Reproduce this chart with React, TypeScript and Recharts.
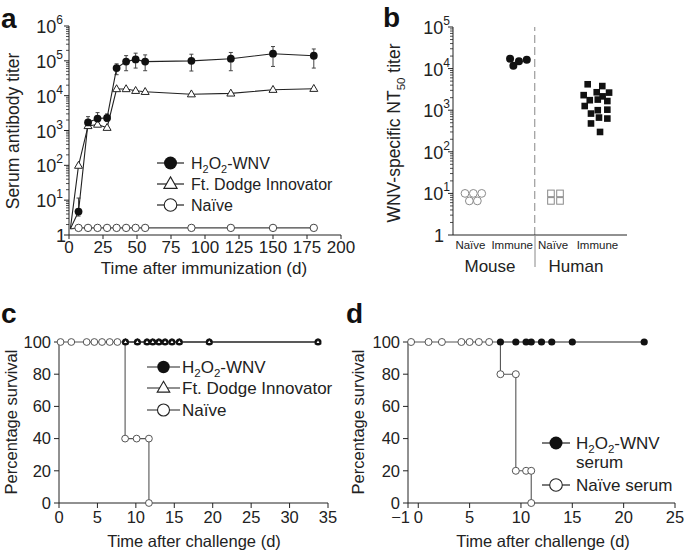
import React from 'react';
import {
  LineChart,
  Line,
  XAxis,
  YAxis,
  ErrorBar,
  ScatterChart,
  Scatter,
  ReferenceLine,
} from 'recharts';

const FONT = '"Liberation Sans", Arial, Helvetica, sans-serif';
const INK = '#222';

// ---- panel a: serum antibody titer after immunization
const daysA = [1, 7, 14, 21, 28, 35, 42, 49, 56, 90, 119, 150, 180];
const h2o2Titer = [1.5, 4.7, 1700, 2200, 2300, 62000, 95000, 110000, 95000, 100000, 115000, 160000, 140000];
const h2o2ErrLow = [null, 1.2, 530, 750, 500, 22000, 43000, 48000, 43000, 49000, 63000, 91000, 78000];
const h2o2ErrHigh = [null, 6.8, 800, 1060, 700, 20000, 46000, 56000, 53000, 55000, 59000, 97000, 79000];
const ftDodgeTiter = [1.5, 98, 1350, 1480, 1200, 15500, 15500, 13800, 12900, 11000, 11600, 14800, 15800];
const naiveTiter = [1.5, 1.6, 1.6, 1.6, 1.6, 1.6, 1.6, 1.6, 1.6, 1.6, 1.6, 1.6, 1.6];
const ticksA = [0, 25, 50, 75, 100, 125, 150, 175, 200];
const decadesA = [1, 10, 100, 1000, 10000, 100000, 1000000];

// ---- panel b: NT50 titers
const decadesB = [1, 10, 100, 1000, 10000, 100000];
const groupPos = [1.0, 3.4, 5.75, 8.3];
const groupLabels = ['Naïve', 'Immune', 'Naïve', 'Immune'];
const dividerX = 4.7;
const mouseNaiveX = [0.69, 1.17, 1.65, 0.94, 1.4];
const mouseNaiveTiter = [10, 10, 10, 6.6, 6.6];
const mouseImmuneX = [3.28, 3.47, 3.79, 4.24];
const mouseImmuneTiter = [17300, 11700, 15100, 16300];
const humanNaiveX = [5.63, 6.15, 5.63, 6.15];
const humanNaiveTiter = [10, 10, 6.6, 6.6];
const humanImmuneX = [7.74, 8.58, 8.26, 8.97, 7.51, 8.6, 7.86, 8.32, 8.87, 7.57, 8.32, 8.87, 7.93, 8.39, 8.87, 7.93, 8.45];
const humanImmuneTiter = [4200, 3800, 2700, 2650, 2300, 2150, 1740, 1800, 1660, 1260, 1000, 1030, 830, 665, 630, 480, 300];

// ---- panel c: survival after challenge (vaccinated mice)
const naiveDaysC = [0.2, 1.6, 3.6, 4.6, 5.6, 6.6, 7.6, 8.6, 10.1, 11.7, 11.7];
const naiveSurvC = [100, 100, 100, 100, 100, 100, 100, 40, 40, 40, 0];
const vaccDaysC = [8.65, 10.2, 11.45, 12.2, 13.0, 13.8, 14.7, 15.65, 19.55, 33.7];
const h2o2SurvC = [100, 100, 100, 100, 100, 100, 100, 100, 100, 100];
const ftDodgeSurvC = [100, 100, 100, 100, 100, 100, 100, 100, 100, 100];
const ticksC = [0, 5, 10, 15, 20, 25, 30, 35];

// ---- panel d: survival after passive transfer
const naiveDaysD = [-0.7, 1, 2.3, 4.2, 5, 5.9, 6.9, 8, 9.5, 9.5, 10.5, 11, 11];
const naiveSurvD = [100, 100, 100, 100, 100, 100, 100, 80, 80, 20, 20, 20, 0];
const serumDaysD = [8, 9.5, 10.5, 11, 12, 13, 15, 22];
const serumSurvD = [100, 100, 100, 100, 100, 100, 100, 100];
const ticksD = [-1, 0, 5, 10, 15, 20, 25];
const pctTicks = [0, 20, 40, 60, 80, 100];

const withMinors = (decades: number[]) => {
  const out: number[] = [];
  decades.forEach((d, i) => {
    out.push(d);
    if (i < decades.length - 1) for (let k = 2; k <= 9; k++) out.push(d * k);
  });
  return out;
};

const dataA = daysA.map((day, i) => ({
  day,
  h2o2: h2o2Titer[i],
  err: h2o2ErrLow[i] == null ? null : [h2o2ErrLow[i], h2o2ErrHigh[i]],
  ftd: ftDodgeTiter[i],
  naive: naiveTiter[i],
}));

const pts = (xs: number[], ys: number[]) => xs.map((x, i) => ({ x, y: ys[i] }));

function triPath(cx: number, cy: number, s: number) {
  const h = s * 0.866;
  return `M${cx},${cy - h * 0.62}L${cx + s / 2},${cy + h * 0.38}L${cx - s / 2},${cy + h * 0.38}Z`;
}

function LogTick(props: any) {
  const { x, y, payload, supRight, oneRight } = props;
  const v = payload.value;
  const p = Math.log10(v);
  const e = Math.round(p);
  if (Math.abs(p - e) > 1e-9) {
    return <line x1={x - 3} x2={x} y1={y} y2={y} stroke={INK} strokeWidth={0.8} />;
  }
  return (
    <g>
      <line x1={x - 5} x2={x} y1={y} y2={y} stroke={INK} strokeWidth={1} />
      {e === 0 ? (
        <text x={x - oneRight} y={y + 7} textAnchor="end" fontSize={18} fill={INK} fontFamily={FONT}>1</text>
      ) : (
        <text x={x - supRight} y={y + 7} textAnchor="end" fontSize={18} fill={INK} fontFamily={FONT}>
          10<tspan dy={-9} fontSize={12}>{e}</tspan>
        </text>
      )}
    </g>
  );
}

// x tick for panel d: the negative label sits left of its tick so it clears "0"
function DayTick(props: any) {
  const { x, y, payload } = props;
  const v = payload.value;
  const neg = v < 0;
  return (
    <text
      x={neg ? x + 2 : x}
      y={y + 12}
      textAnchor={neg ? 'end' : 'middle'}
      fontSize={16.5}
      fill={INK}
      fontFamily={FONT}
    >
      {neg ? `\u2212${Math.abs(v)}` : `${v}`}
    </text>
  );
}

const hideFirst = (render: (cx: number, cy: number) => React.ReactElement) => (p: any) =>
  p.index === 0 ? <g key={`n${p.index}`} /> : <g key={`d${p.index}`}>{render(p.cx, p.cy)}</g>;

function PanelA() {
  return (
    <LineChart width={360} height={290} data={dataA} margin={{ top: 26, right: 19, left: 9, bottom: 0 }}>
      <XAxis
        type="number"
        dataKey="day"
        domain={[0, 200]}
        ticks={ticksA}
        interval={0}
        height={55}
        tickSize={4}
        tickMargin={2}
        stroke={INK}
        tick={{ fontSize: 17, fill: INK, fontFamily: FONT }}
      />
      <YAxis
        type="number"
        scale="log"
        domain={[1, 1000000]}
        allowDataOverflow
        ticks={withMinors(decadesA)}
        interval={0}
        width={60}
        tickSize={0}
        tickMargin={0}
        stroke={INK}
        tick={(p: any) => <LogTick {...p} supRight={6} oneRight={3} />}
      />
      <Line
        dataKey="naive"
        stroke="#444"
        strokeWidth={1.1}
        isAnimationActive={false}
        dot={hideFirst((cx, cy) => <circle cx={cx} cy={cy} r={3.7} fill="#fff" stroke="#444" strokeWidth={1} />)}
      />
      <Line
        dataKey="ftd"
        stroke={INK}
        strokeWidth={1.1}
        isAnimationActive={false}
        dot={hideFirst((cx, cy) => <path d={triPath(cx, cy, 8)} fill="#fff" stroke={INK} strokeWidth={1} />)}
      />
      <Line
        dataKey="h2o2"
        stroke={INK}
        strokeWidth={1.1}
        isAnimationActive={false}
        dot={hideFirst((cx, cy) => <circle cx={cx} cy={cy} r={3.9} fill="#111" />)}
      >
        <ErrorBar dataKey="err" width={2} stroke="#444" strokeWidth={1} direction="y" />
      </Line>
    </LineChart>
  );
}

function PanelB() {
  return (
    <ScatterChart width={345} height={290} margin={{ top: 27, right: 58, left: 53, bottom: 0 }}>
      <XAxis
        type="number"
        dataKey="x"
        domain={[0, 10]}
        ticks={groupPos}
        interval={0}
        height={55}
        tickLine={false}
        tickSize={0}
        tickMargin={6}
        stroke={INK}
        tickFormatter={(_v: number, i: number) => groupLabels[i]}
        tick={{ fontSize: 11.5, fill: INK, fontFamily: FONT }}
      />
      <YAxis
        type="number"
        dataKey="y"
        scale="log"
        domain={[1, 100000]}
        allowDataOverflow
        ticks={withMinors(decadesB)}
        interval={0}
        width={60}
        tickSize={0}
        tickMargin={0}
        stroke={INK}
        tick={(p: any) => <LogTick {...p} supRight={3} oneRight={9} />}
      />
      <ReferenceLine x={dividerX} stroke="#888" strokeWidth={1} strokeDasharray="8 4" />
      <Scatter
        data={pts(mouseNaiveX, mouseNaiveTiter)}
        isAnimationActive={false}
        shape={(p: any) => <circle cx={p.cx} cy={p.cy} r={3.9} fill="#fff" stroke="#8a8a8a" strokeWidth={1} />}
      />
      <Scatter
        data={pts(mouseImmuneX, mouseImmuneTiter)}
        isAnimationActive={false}
        shape={(p: any) => <circle cx={p.cx} cy={p.cy} r={4} fill="#111" />}
      />
      <Scatter
        data={pts(humanNaiveX, humanNaiveTiter)}
        isAnimationActive={false}
        shape={(p: any) => <rect x={p.cx - 3.3} y={p.cy - 3.3} width={6.6} height={6.6} fill="#fff" stroke="#8a8a8a" strokeWidth={1} />}
      />
      <Scatter
        data={pts(humanImmuneX, humanImmuneTiter)}
        isAnimationActive={false}
        shape={(p: any) => <rect x={p.cx - 3.3} y={p.cy - 3.3} width={6.6} height={6.6} fill="#111" />}
      />
    </ScatterChart>
  );
}

function PanelC() {
  return (
    <LineChart width={345} height={263} margin={{ top: 52, right: 17, left: 0, bottom: 0 }}>
      <XAxis
        type="number"
        dataKey="x"
        domain={[0, 35]}
        ticks={ticksC}
        interval={0}
        height={50}
        tickSize={5}
        tickMargin={3}
        stroke={INK}
        tick={{ fontSize: 16.5, fill: INK, fontFamily: FONT }}
      />
      <YAxis
        type="number"
        dataKey="y"
        domain={[0, 100]}
        ticks={pctTicks}
        interval={0}
        width={59}
        tickSize={5}
        tickMargin={3}
        stroke={INK}
        tick={{ fontSize: 16.5, fill: INK, fontFamily: FONT }}
      />
      <Line
        data={pts(naiveDaysC, naiveSurvC)}
        dataKey="y"
        type="stepAfter"
        stroke="#555"
        strokeWidth={1.1}
        isAnimationActive={false}
        dot={(p: any) => <circle key={p.index} cx={p.cx} cy={p.cy} r={3.4} fill="#fff" stroke="#555" strokeWidth={1} />}
      />
      <Line
        data={pts(vaccDaysC, h2o2SurvC)}
        dataKey="y"
        type="stepAfter"
        stroke={INK}
        strokeWidth={1.1}
        isAnimationActive={false}
        dot={(p: any) => <circle key={p.index} cx={p.cx} cy={p.cy} r={3.5} fill="#111" />}
      />
      <Line
        data={pts(vaccDaysC, ftDodgeSurvC)}
        dataKey="y"
        type="stepAfter"
        stroke={INK}
        strokeWidth={1.1}
        isAnimationActive={false}
        dot={(p: any) => <path key={p.index} d={triPath(p.cx, p.cy, 5.2)} fill="#fff" stroke="#111" strokeWidth={1.2} />}
      />
    </LineChart>
  );
}

function PanelD() {
  return (
    <LineChart width={345} height={263} margin={{ top: 52, right: 10, left: 8, bottom: 0 }}>
      <XAxis
        type="number"
        dataKey="x"
        domain={[-1, 25]}
        ticks={ticksD}
        interval={0}
        height={50}
        tickSize={5}
        tickMargin={3}
        stroke={INK}
        tick={(p: any) => <DayTick {...p} />}
      />
      <YAxis
        type="number"
        dataKey="y"
        domain={[0, 100]}
        ticks={pctTicks}
        interval={0}
        width={60}
        tickSize={5}
        tickMargin={3}
        stroke={INK}
        tick={{ fontSize: 16.5, fill: INK, fontFamily: FONT }}
      />
      <Line
        data={pts(naiveDaysD, naiveSurvD)}
        dataKey="y"
        type="stepAfter"
        stroke="#555"
        strokeWidth={1.1}
        isAnimationActive={false}
        dot={(p: any) => <circle key={p.index} cx={p.cx} cy={p.cy} r={3.5} fill="#fff" stroke="#555" strokeWidth={1} />}
      />
      <Line
        data={pts(serumDaysD, serumSurvD)}
        dataKey="y"
        type="stepAfter"
        stroke={INK}
        strokeWidth={1.1}
        isAnimationActive={false}
        dot={(p: any) => <circle key={p.index} cx={p.cx} cy={p.cy} r={3.6} fill="#111" />}
      />
    </LineChart>
  );
}

function H2O2Text({ x, y, size, second }: { x: number; y: number; size: number; second?: string }) {
  const sub = size * 0.68;
  const d = size * 0.22;
  return (
    <text x={x} y={y} fontSize={size} fill={INK} fontFamily={FONT}>
      H<tspan dy={d} fontSize={sub}>2</tspan>
      <tspan dy={-d}>O</tspan>
      <tspan dy={d} fontSize={sub}>2</tspan>
      <tspan dy={-d}>-WNV</tspan>
      {second && (
        <tspan x={x} dy={size * 1.1}>
          {second}
        </tspan>
      )}
    </text>
  );
}

type Marker = 'filled' | 'tri' | 'open';

function LegendKey({ x1, x2, y, kind, r }: { x1: number; x2: number; y: number; kind: Marker; r: number }) {
  const cx = (x1 + x2) / 2;
  return (
    <g>
      <line x1={x1} x2={x2} y1={y} y2={y} stroke={INK} strokeWidth={1.2} />
      {kind === 'filled' && <circle cx={cx} cy={y} r={r} fill="#111" />}
      {kind === 'open' && <circle cx={cx} cy={y} r={r} fill="#fff" stroke={INK} strokeWidth={1.1} />}
      {kind === 'tri' && <path d={triPath(cx, y, r * 2.1)} fill="#fff" stroke={INK} strokeWidth={1.1} />}
    </g>
  );
}

function Overlay() {
  const letter = { fontSize: 28, fontWeight: 700, fill: '#111', fontFamily: FONT } as const;
  const title = { fill: INK, fontFamily: FONT } as const;
  return (
    <svg width={685} height={553} style={{ position: 'absolute', left: 0, top: 0, pointerEvents: 'none' }}>
      <text x={1} y={28} {...letter}>a</text>
      <text x={383} y={27} {...letter}>b</text>
      <text x={1} y={323} {...letter}>c</text>
      <text x={346} y={323} {...letter}>d</text>

      {/* panel a titles + legend */}
      <text x={204} y={274} textAnchor="middle" fontSize={17} {...title}>Time after immunization (d)</text>
      <text transform="translate(19,131) rotate(-90)" textAnchor="middle" fontSize={17.5} {...title}>Serum antibody titer</text>
      <LegendKey x1={157} x2={184} y={163} kind="filled" r={6.5} />
      <H2O2Text x={191} y={169} size={16} />
      <LegendKey x1={157} x2={184} y={184} kind="tri" r={6.3} />
      <text x={191} y={190} fontSize={16} {...title}>Ft. Dodge Innovator</text>
      <LegendKey x1={157} x2={184} y={205} kind="open" r={6.3} />
      <text x={191} y={211} fontSize={16} {...title}>Naïve</text>

      {/* panel b titles */}
      <text transform="translate(400,133) rotate(-90)" textAnchor="middle" fontSize={17.5} {...title}>
        WNV-specific NT<tspan dy={5} fontSize={11.5}>50</tspan>
        <tspan dy={-5}> titer</tspan>
      </text>
      <line x1={535} x2={535} y1={236} y2={267} stroke="#888" strokeWidth={1} />
      <text x={490} y={272} textAnchor="middle" fontSize={17} {...title}>Mouse</text>
      <text x={576} y={272} textAnchor="middle" fontSize={17} {...title}>Human</text>

      {/* panel c titles + legend */}
      <text x={194} y={547} textAnchor="middle" fontSize={16.5} {...title}>Time after challenge (d)</text>
      <text transform="translate(17,422) rotate(-90)" textAnchor="middle" fontSize={16.5} {...title}>Percentage survival</text>
      <LegendKey x1={147} x2={180} y={367} kind="filled" r={6.2} />
      <H2O2Text x={182} y={373} size={17} />
      <LegendKey x1={147} x2={180} y={388} kind="tri" r={6} />
      <text x={182} y={394} fontSize={17} {...title}>Ft. Dodge Innovator</text>
      <LegendKey x1={147} x2={180} y={410} kind="open" r={6} />
      <text x={182} y={416} fontSize={17} {...title}>Naïve</text>

      {/* panel d titles + legend */}
      <text x={543} y={547} textAnchor="middle" fontSize={16.5} {...title}>Time after challenge (d)</text>
      <text transform="translate(364,422) rotate(-90)" textAnchor="middle" fontSize={16.5} {...title}>Percentage survival</text>
      <LegendKey x1={542} x2={570} y={443} kind="filled" r={6.5} />
      <H2O2Text x={576} y={449} size={17} second="serum" />
      <LegendKey x1={542} x2={570} y={485} kind="open" r={6.3} />
      <text x={576} y={491} fontSize={17} {...title}>Naïve serum</text>
    </svg>
  );
}

export default function App() {
  return (
    <div
      style={{
        position: 'absolute',
        left: 0,
        top: 0,
        width: 685,
        height: 553,
        background: '#fff',
        fontFamily: FONT,
        overflow: 'hidden',
      }}
    >
      <div style={{ position: 'absolute', left: 0, top: 0 }}>
        <PanelA />
      </div>
      <div style={{ position: 'absolute', left: 340, top: 0 }}>
        <PanelB />
      </div>
      <div style={{ position: 'absolute', left: 0, top: 290 }}>
        <PanelC />
      </div>
      <div style={{ position: 'absolute', left: 340, top: 290 }}>
        <PanelD />
      </div>
      <Overlay />
    </div>
  );
}
